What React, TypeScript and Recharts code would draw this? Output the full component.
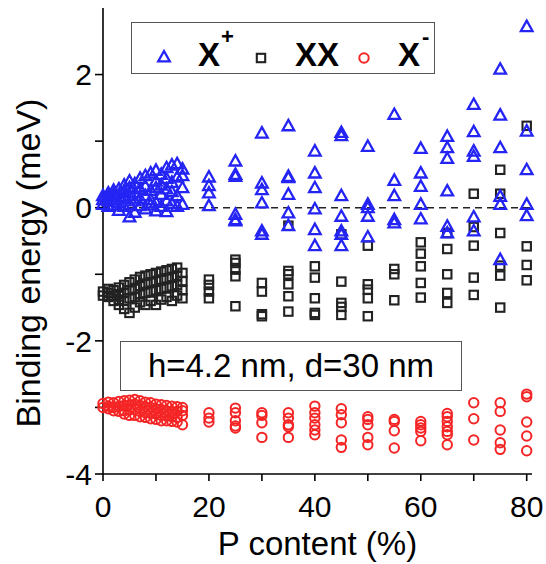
import React from "react"
import { ScatterChart, Scatter, XAxis, YAxis, ReferenceLine } from "recharts"

// P content (%) columns with the measured binding energies (meV) in each
const XPLUS_COLS: [number, number[]][] = [
  [0, [0.05, 0.12, 0.18]],
  [1, [0.02, 0.1, 0.16, 0.22]],
  [2, [0.04, 0.12, 0.2, 0.26]],
  [3, [-0.04, 0.08, 0.17, 0.28]],
  [4, [0.02, 0.14, 0.24, 0.34]],
  [5, [-0.14, 0.05, 0.18, 0.3, 0.4]],
  [6, [-0.07, 0.1, 0.22, 0.36]],
  [7, [0.03, 0.14, 0.28, 0.44]],
  [8, [-0.02, 0.18, 0.32, 0.48]],
  [9, [0.04, 0.12, 0.26, 0.52]],
  [10, [-0.05, 0.08, 0.3, 0.4, 0.56]],
  [11, [0.02, 0.2, 0.34, 0.5]],
  [12, [-0.06, 0.1, 0.28, 0.44, 0.6]],
  [13, [0.06, 0.24, 0.38, 0.64]],
  [14, [0.02, 0.18, 0.46, 0.66]],
  [15, [0.05, 0.3, 0.48, 0.58]],
  [20, [0.46, 0.33, 0.22, 0.03]],
  [25, [0.7, 0.5, 0.47, -0.1, -0.18, -0.2]],
  [30, [1.12, 0.37, 0.27, 0.07, -0.35, -0.4]],
  [35, [1.23, 0.47, 0.45, 0.2, -0.08, -0.27]],
  [40, [0.85, 0.52, 0.3, -0.02, -0.33, -0.57]],
  [45, [1.13, 1.08, 0.18, -0.13, -0.35, -0.4, -0.57]],
  [50, [0.92, 0.05, 0.0, -0.13, -0.44]],
  [55, [1.4, 0.41, 0.18, -0.18, -0.23]],
  [60, [0.89, 0.52, 0.32, 0.05, -0.17]],
  [65, [1.07, 0.9, 0.74, 0.25, -0.28, -0.38]],
  [70, [1.55, 1.14, 0.85, 0.77, -0.14, -0.35]],
  [75, [2.08, 1.39, 0.9, 0.17, 0.05, -0.78]],
  [80, [2.72, 1.15, 0.57, 0.05, -0.12]],
]

const XX_COLS: [number, number[]][] = [
  [0, [-1.26, -1.32]],
  [1, [-1.22, -1.28, -1.34]],
  [2, [-1.24, -1.32, -1.4]],
  [3, [-1.2, -1.3, -1.38, -1.46]],
  [4, [-1.16, -1.28, -1.4, -1.52]],
  [5, [-1.12, -1.24, -1.36, -1.58]],
  [6, [-1.08, -1.22, -1.34, -1.5]],
  [7, [-1.04, -1.18, -1.3, -1.42]],
  [8, [-1.02, -1.14, -1.28, -1.46]],
  [9, [-1.0, -1.12, -1.26, -1.4]],
  [10, [-0.98, -1.1, -1.24, -1.46]],
  [11, [-0.96, -1.08, -1.22, -1.38]],
  [12, [-0.94, -1.06, -1.2, -1.34]],
  [13, [-0.92, -1.04, -1.18, -1.4]],
  [14, [-0.9, -1.02, -1.16, -1.32]],
  [15, [-0.98, -1.1, -1.24, -1.36]],
  [20, [-1.08, -1.16, -1.26, -1.36]],
  [25, [-0.78, -0.83, -0.93, -1.03, -1.48]],
  [30, [-1.13, -1.26, -1.6, -1.63]],
  [35, [-0.27, -0.95, -1.0, -1.15, -1.33, -1.56]],
  [40, [-0.88, -1.05, -1.36, -1.58, -1.61]],
  [45, [-0.4, -1.11, -1.43, -1.49, -1.61]],
  [50, [-0.57, -1.15, -1.23, -1.36, -1.63]],
  [55, [-0.92, -1.0, -1.39]],
  [60, [-0.52, -0.69, -0.88, -1.13, -1.35]],
  [65, [-0.38, -0.62, -1.0, -1.28, -1.43]],
  [70, [0.21, -0.29, -0.57, -1.05, -1.31]],
  [75, [0.57, 0.21, -0.38, -0.87, -1.02, -1.5]],
  [80, [1.23, -0.58, -0.86, -1.09]],
]

const XMINUS_COLS: [number, number[]][] = [
  [0, [-2.94, -3.0]],
  [1, [-2.92, -2.98, -3.02]],
  [2, [-2.93, -3.0, -3.05]],
  [3, [-2.91, -2.98, -3.06]],
  [4, [-2.9, -2.97, -3.05, -3.1]],
  [5, [-2.89, -2.96, -3.04, -3.12]],
  [6, [-2.88, -2.95, -3.03, -3.12]],
  [7, [-2.9, -2.97, -3.06, -3.14]],
  [8, [-2.92, -2.99, -3.08, -3.15]],
  [9, [-2.93, -3.0, -3.09, -3.17]],
  [10, [-2.95, -3.02, -3.1, -3.18]],
  [11, [-2.96, -3.03, -3.12, -3.2]],
  [12, [-2.97, -3.05, -3.13, -3.2]],
  [13, [-2.98, -3.06, -3.14, -3.21]],
  [14, [-2.99, -3.06, -3.15, -3.22]],
  [15, [-3.0, -3.05, -3.12, -3.26]],
  [20, [-3.08, -3.16, -3.22]],
  [25, [-3.01, -3.08, -3.2, -3.28, -3.31]],
  [30, [-3.08, -3.12, -3.23, -3.45]],
  [35, [-3.08, -3.16, -3.26, -3.29, -3.45]],
  [40, [-2.98, -3.08, -3.16, -3.26, -3.34, -3.41]],
  [45, [-3.02, -3.11, -3.23, -3.49, -3.6]],
  [50, [-3.14, -3.18, -3.26, -3.45, -3.56]],
  [55, [-3.18, -3.21, -3.35, -3.61]],
  [60, [-3.21, -3.26, -3.31, -3.36, -3.5]],
  [65, [-3.09, -3.14, -3.21, -3.29, -3.36, -3.41, -3.56]],
  [70, [-2.93, -3.17, -3.49]],
  [75, [-2.93, -3.06, -3.34, -3.53, -3.63]],
  [80, [-2.8, -2.84, -3.22, -3.43, -3.65]],
]

const X_TICKS = [0, 10, 20, 30, 40, 50, 60, 70, 80]
const X_MAJOR = [0, 20, 40, 60, 80]
const Y_TICKS = [-4, -3, -2, -1, 0, 1, 2]

const BLUE = "#2424f4"
const DARK = "#222"
const RED = "#f52525"
const FONT = "'Liberation Sans', Arial, sans-serif"

const toPoints = (cols: [number, number[]][]) =>
  cols.flatMap(([p, ys]) => ys.map((e) => ({ p, e })))

const Triangle = (props: any) => {
  const { cx, cy } = props
  return (
    <path
      d={`M${cx},${cy - 6} L${cx + 5.8},${cy + 4.4} L${cx - 5.8},${cy + 4.4} Z`}
      fill="none"
      stroke={BLUE}
      strokeWidth={2.3}
    />
  )
}

const Square = (props: any) => {
  const { cx, cy } = props
  return <rect x={cx - 4.2} y={cy - 4.2} width={8.4} height={8.4} fill="none" stroke={DARK} strokeWidth={2.1} />
}

const Circle = (props: any) => {
  const { cx, cy } = props
  return <circle cx={cx} cy={cy} r={4.7} fill="none" stroke={RED} strokeWidth={2} />
}

const yTitle = ({ viewBox }: any) => {
  const x = 40
  const y = viewBox.y + viewBox.height / 2 + 22
  return (
    <text x={x} y={y} transform={`rotate(-90 ${x} ${y})`} textAnchor="middle" fontSize={34} fontFamily={FONT} fill="#000">
      Binding energy (meV)
    </text>
  )
}

const xTitle = ({ viewBox }: any) => (
  <text x={viewBox.x + viewBox.width / 2} y={viewBox.y + 81} textAnchor="middle" fontSize={33} fontFamily={FONT} fill="#000">
    P content (%)
  </text>
)

const tickStyle = { fontSize: 30, fontFamily: FONT, fill: "#000" }
const axisLine = { stroke: "#000", strokeWidth: 1.6 }

export default function App() {
  return (
    <div style={{ position: "fixed", left: 0, top: 0, width: 546, height: 564, background: "#fff", fontFamily: FONT }}>
      <ScatterChart width={546} height={564} margin={{ top: 8, right: 14, bottom: 0, left: 0 }}>
        <XAxis
          xAxisId="major"
          type="number"
          dataKey="p"
          domain={[0, 81]}
          ticks={X_MAJOR}
          height={0}
          tick={false}
          tickSize={10}
          tickLine={{ stroke: "#000", strokeWidth: 1.6 }}
          axisLine={false}
        />
        <XAxis
          type="number"
          dataKey="p"
          domain={[0, 81]}
          ticks={X_TICKS}
          height={90}
          tickSize={7}
          tickMargin={15}
          tickFormatter={(v: number) => (v % 20 === 0 ? String(v) : "")}
          tick={tickStyle}
          tickLine={{ stroke: "#000", strokeWidth: 1.6 }}
          axisLine={axisLine}
          label={{ content: xTitle }}
        />
        <XAxis
          xAxisId="top"
          orientation="top"
          type="number"
          dataKey="p"
          domain={[0, 81]}
          ticks={X_TICKS}
          height={0}
          mirror
          tick={false}
          tickSize={7}
          tickLine={{ stroke: "#000", strokeWidth: 1.6 }}
          axisLine={axisLine}
        />
        <YAxis
          type="number"
          dataKey="e"
          domain={[-4, 3]}
          ticks={Y_TICKS}
          width={103}
          tickSize={8}
          tickMargin={3}
          tickFormatter={(v: number) => (v % 2 === 0 ? String(v) : "")}
          tick={tickStyle}
          tickLine={{ stroke: "#000", strokeWidth: 1.6 }}
          axisLine={axisLine}
          label={{ content: yTitle }}
        />
        <YAxis
          yAxisId="right"
          orientation="right"
          type="number"
          dataKey="e"
          domain={[-4, 3]}
          ticks={Y_TICKS}
          width={0}
          mirror
          tick={false}
          tickSize={7}
          tickLine={{ stroke: "#000", strokeWidth: 1.6 }}
          axisLine={axisLine}
        />
        <ReferenceLine y={0} stroke="#222" strokeWidth={1.6} strokeDasharray="7 5" />
        <Scatter name="X-" data={toPoints(XMINUS_COLS)} shape={Circle} isAnimationActive={false} />
        <Scatter name="XX" data={toPoints(XX_COLS)} shape={Square} isAnimationActive={false} />
        <Scatter name="X+" data={toPoints(XPLUS_COLS)} shape={Triangle} isAnimationActive={false} />
      </ScatterChart>

      {/* legend box */}
      <div
        style={{
          position: "absolute",
          left: 131,
          top: 22,
          width: 302,
          height: 50,
          border: "1.3px solid #555",
          background: "#fff",
        }}
      >
        <svg width={302} height={50} style={{ position: "absolute", left: 0, top: 0 }}>
          <Triangle cx={32} cy={34} />
          <text x={66} y={43} fontSize={33} fontWeight="bold" fontFamily={FONT}>X</text>
          <text x={89} y={21} fontSize={22} fontWeight="bold" fontFamily={FONT}>+</text>
          <Square cx={129} cy={35} />
          <text x={163} y={43} fontSize={33} fontWeight="bold" fontFamily={FONT}>XX</text>
          <Circle cx={232} cy={35} />
          <text x={266} y={43} fontSize={33} fontWeight="bold" fontFamily={FONT}>X</text>
          <text x={290} y={21} fontSize={22} fontWeight="bold" fontFamily={FONT}>-</text>
        </svg>
      </div>

      {/* sample parameters */}
      <div
        style={{
          position: "absolute",
          left: 120,
          top: 341,
          width: 340,
          height: 48,
          border: "1.3px solid #555",
          background: "#fff",
          fontSize: 33,
          lineHeight: "48px",
          textAlign: "center",
          color: "#000",
        }}
      >
        h=4.2 nm, d=30 nm
      </div>
    </div>
  )
}
